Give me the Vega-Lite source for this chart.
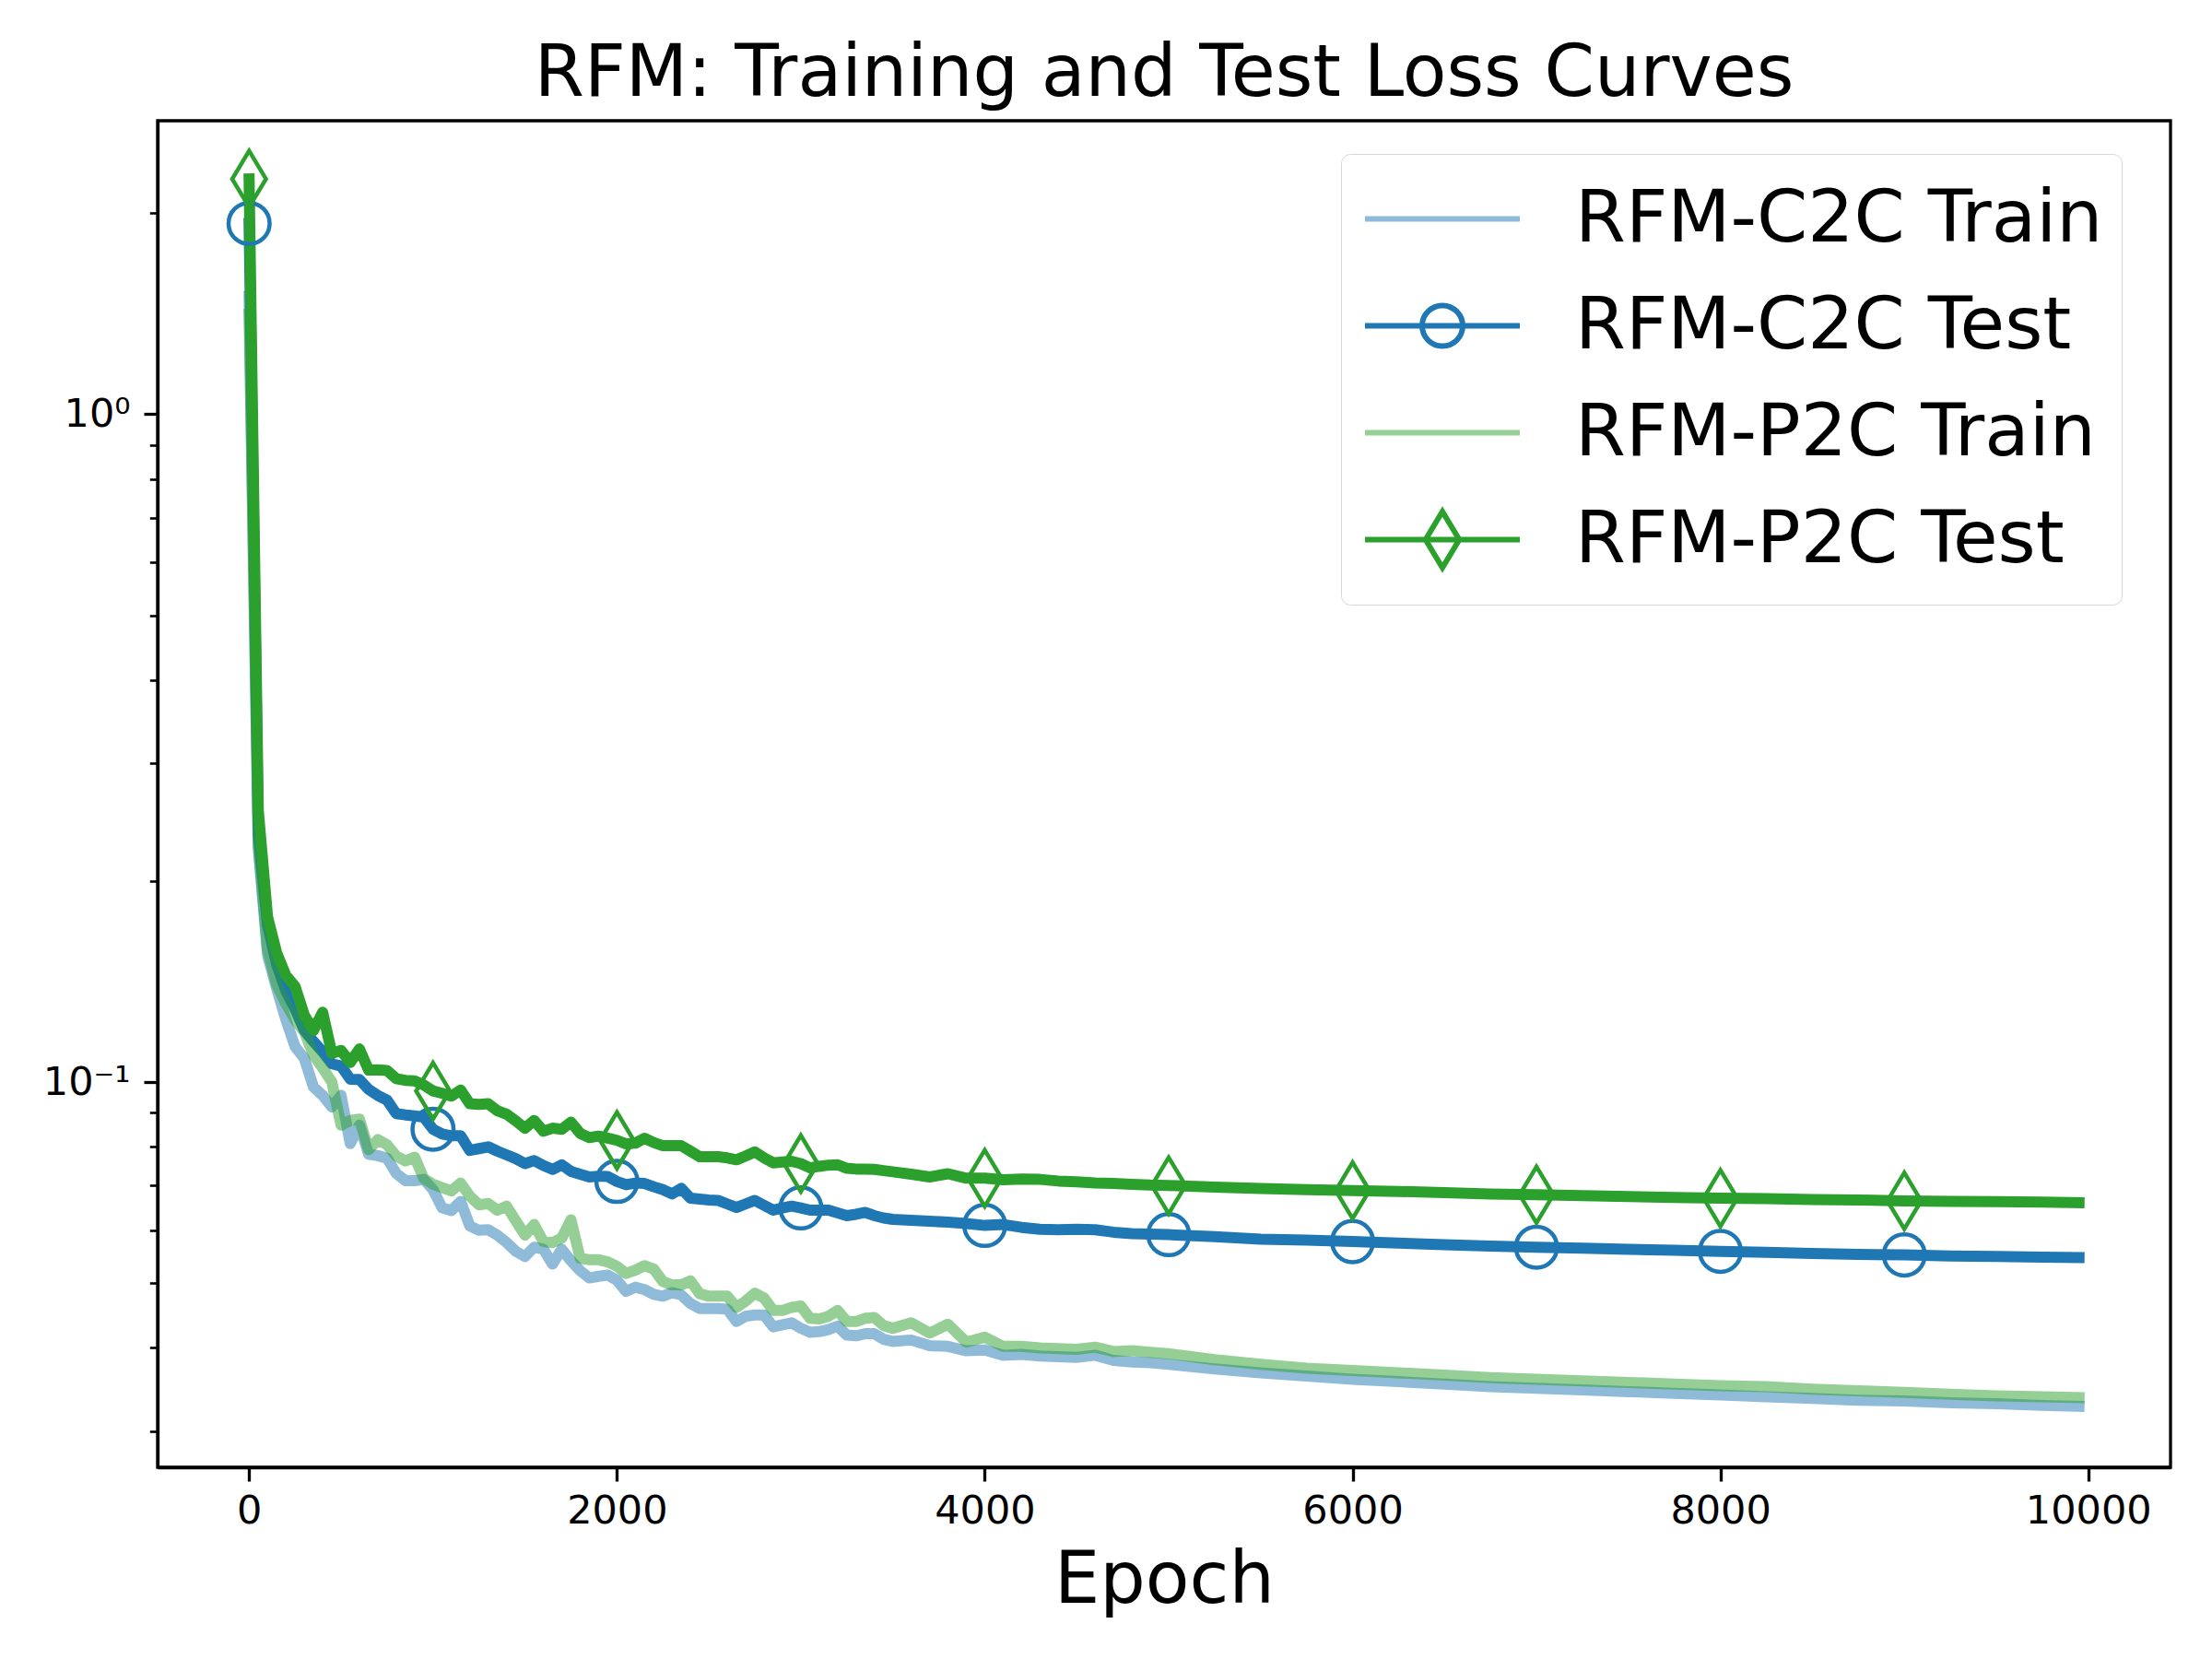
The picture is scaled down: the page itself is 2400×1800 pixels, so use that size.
{
"$schema":"https://vega.github.io/schema/vega-lite/v6.json",
"width":2184,"height":1461,
"autosize":{"type":"none"},
"padding":{"left":171,"top":131,"right":45,"bottom":208},
"background":"white",
"title":{"text":"RFM: Training and Test Loss Curves","font":"DejaVu Sans","fontSize":78,"fontWeight":"normal","color":"black","anchor":"middle","frame":"group","baseline":"alphabetic","offset":-51},
"config":{"font":"DejaVu Sans","view":{"stroke":"black","strokeWidth":3.3}},
"data":{"values":[
{"series":"RFM-C2C Train","epoch":0,"loss":1.5},{"series":"RFM-C2C Train","epoch":50,"loss":0.225},{"series":"RFM-C2C Train","epoch":100,"loss":0.155},{"series":"RFM-C2C Train","epoch":150,"loss":0.138},{"series":"RFM-C2C Train","epoch":200,"loss":0.124},{"series":"RFM-C2C Train","epoch":250,"loss":0.113},{"series":"RFM-C2C Train","epoch":300,"loss":0.1085},{"series":"RFM-C2C Train","epoch":350,"loss":0.0983},{"series":"RFM-C2C Train","epoch":400,"loss":0.0955},{"series":"RFM-C2C Train","epoch":450,"loss":0.0918},{"series":"RFM-C2C Train","epoch":500,"loss":0.0955},{"series":"RFM-C2C Train","epoch":550,"loss":0.0809},{"series":"RFM-C2C Train","epoch":600,"loss":0.0862},{"series":"RFM-C2C Train","epoch":650,"loss":0.078},{"series":"RFM-C2C Train","epoch":700,"loss":0.0776},{"series":"RFM-C2C Train","epoch":750,"loss":0.0769},{"series":"RFM-C2C Train","epoch":800,"loss":0.073},{"series":"RFM-C2C Train","epoch":850,"loss":0.0712},{"series":"RFM-C2C Train","epoch":900,"loss":0.0712},{"series":"RFM-C2C Train","epoch":950,"loss":0.0715},{"series":"RFM-C2C Train","epoch":1000,"loss":0.069},{"series":"RFM-C2C Train","epoch":1050,"loss":0.0648},{"series":"RFM-C2C Train","epoch":1100,"loss":0.0642},{"series":"RFM-C2C Train","epoch":1150,"loss":0.0663},{"series":"RFM-C2C Train","epoch":1200,"loss":0.0609},{"series":"RFM-C2C Train","epoch":1250,"loss":0.06},{"series":"RFM-C2C Train","epoch":1300,"loss":0.0601},{"series":"RFM-C2C Train","epoch":1350,"loss":0.059},{"series":"RFM-C2C Train","epoch":1400,"loss":0.0575},{"series":"RFM-C2C Train","epoch":1450,"loss":0.0558},{"series":"RFM-C2C Train","epoch":1500,"loss":0.0548},{"series":"RFM-C2C Train","epoch":1550,"loss":0.0566},{"series":"RFM-C2C Train","epoch":1600,"loss":0.0562},{"series":"RFM-C2C Train","epoch":1650,"loss":0.0534},{"series":"RFM-C2C Train","epoch":1700,"loss":0.0562},{"series":"RFM-C2C Train","epoch":1750,"loss":0.054},{"series":"RFM-C2C Train","epoch":1800,"loss":0.0522},{"series":"RFM-C2C Train","epoch":1850,"loss":0.0509},{"series":"RFM-C2C Train","epoch":1900,"loss":0.0512},{"series":"RFM-C2C Train","epoch":1950,"loss":0.0514},{"series":"RFM-C2C Train","epoch":2000,"loss":0.0505},{"series":"RFM-C2C Train","epoch":2050,"loss":0.0486},{"series":"RFM-C2C Train","epoch":2100,"loss":0.0493},{"series":"RFM-C2C Train","epoch":2150,"loss":0.0489},{"series":"RFM-C2C Train","epoch":2200,"loss":0.0481},{"series":"RFM-C2C Train","epoch":2250,"loss":0.0478},{"series":"RFM-C2C Train","epoch":2300,"loss":0.0484},{"series":"RFM-C2C Train","epoch":2350,"loss":0.048},{"series":"RFM-C2C Train","epoch":2400,"loss":0.0466},{"series":"RFM-C2C Train","epoch":2450,"loss":0.0458},{"series":"RFM-C2C Train","epoch":2500,"loss":0.0458},{"series":"RFM-C2C Train","epoch":2550,"loss":0.0458},{"series":"RFM-C2C Train","epoch":2600,"loss":0.0457},{"series":"RFM-C2C Train","epoch":2650,"loss":0.0438},{"series":"RFM-C2C Train","epoch":2700,"loss":0.0446},{"series":"RFM-C2C Train","epoch":2750,"loss":0.0448},{"series":"RFM-C2C Train","epoch":2800,"loss":0.0448},{"series":"RFM-C2C Train","epoch":2850,"loss":0.043},{"series":"RFM-C2C Train","epoch":2900,"loss":0.0433},{"series":"RFM-C2C Train","epoch":2950,"loss":0.0436},{"series":"RFM-C2C Train","epoch":3000,"loss":0.0428},{"series":"RFM-C2C Train","epoch":3050,"loss":0.0422},{"series":"RFM-C2C Train","epoch":3100,"loss":0.0423},{"series":"RFM-C2C Train","epoch":3150,"loss":0.0426},{"series":"RFM-C2C Train","epoch":3200,"loss":0.0431},{"series":"RFM-C2C Train","epoch":3250,"loss":0.0418},{"series":"RFM-C2C Train","epoch":3300,"loss":0.0417},{"series":"RFM-C2C Train","epoch":3350,"loss":0.042},{"series":"RFM-C2C Train","epoch":3400,"loss":0.042},{"series":"RFM-C2C Train","epoch":3450,"loss":0.0412},{"series":"RFM-C2C Train","epoch":3500,"loss":0.0409},{"series":"RFM-C2C Train","epoch":3600,"loss":0.0411},{"series":"RFM-C2C Train","epoch":3700,"loss":0.0403},{"series":"RFM-C2C Train","epoch":3800,"loss":0.0402},{"series":"RFM-C2C Train","epoch":3900,"loss":0.0396},{"series":"RFM-C2C Train","epoch":4000,"loss":0.0397},{"series":"RFM-C2C Train","epoch":4100,"loss":0.039},{"series":"RFM-C2C Train","epoch":4200,"loss":0.0391},{"series":"RFM-C2C Train","epoch":4300,"loss":0.0389},{"series":"RFM-C2C Train","epoch":4400,"loss":0.0388},{"series":"RFM-C2C Train","epoch":4500,"loss":0.0387},{"series":"RFM-C2C Train","epoch":4600,"loss":0.039},{"series":"RFM-C2C Train","epoch":4700,"loss":0.0383},{"series":"RFM-C2C Train","epoch":4800,"loss":0.0381},{"series":"RFM-C2C Train","epoch":4900,"loss":0.038},{"series":"RFM-C2C Train","epoch":5000,"loss":0.0378},{"series":"RFM-C2C Train","epoch":5250,"loss":0.0372},{"series":"RFM-C2C Train","epoch":5500,"loss":0.0367},{"series":"RFM-C2C Train","epoch":5750,"loss":0.0363},{"series":"RFM-C2C Train","epoch":6000,"loss":0.0359},{"series":"RFM-C2C Train","epoch":6250,"loss":0.0356},{"series":"RFM-C2C Train","epoch":6500,"loss":0.0353},{"series":"RFM-C2C Train","epoch":6750,"loss":0.035},{"series":"RFM-C2C Train","epoch":7000,"loss":0.0348},{"series":"RFM-C2C Train","epoch":7250,"loss":0.0346},{"series":"RFM-C2C Train","epoch":7500,"loss":0.0344},{"series":"RFM-C2C Train","epoch":7750,"loss":0.0342},{"series":"RFM-C2C Train","epoch":8000,"loss":0.034},{"series":"RFM-C2C Train","epoch":8250,"loss":0.0338},{"series":"RFM-C2C Train","epoch":8500,"loss":0.0336},{"series":"RFM-C2C Train","epoch":8750,"loss":0.0334},{"series":"RFM-C2C Train","epoch":9000,"loss":0.0333},{"series":"RFM-C2C Train","epoch":9250,"loss":0.0331},{"series":"RFM-C2C Train","epoch":9500,"loss":0.033},{"series":"RFM-C2C Train","epoch":9750,"loss":0.0328},{"series":"RFM-C2C Train","epoch":9950,"loss":0.0327},
{"series":"RFM-C2C Test","epoch":0,"loss":1.93},{"series":"RFM-C2C Test","epoch":50,"loss":0.235},{"series":"RFM-C2C Test","epoch":100,"loss":0.172},{"series":"RFM-C2C Test","epoch":150,"loss":0.15},{"series":"RFM-C2C Test","epoch":200,"loss":0.137},{"series":"RFM-C2C Test","epoch":250,"loss":0.1286},{"series":"RFM-C2C Test","epoch":300,"loss":0.1195},{"series":"RFM-C2C Test","epoch":350,"loss":0.115},{"series":"RFM-C2C Test","epoch":400,"loss":0.111},{"series":"RFM-C2C Test","epoch":450,"loss":0.1065},{"series":"RFM-C2C Test","epoch":500,"loss":0.1057},{"series":"RFM-C2C Test","epoch":550,"loss":0.101},{"series":"RFM-C2C Test","epoch":600,"loss":0.1009},{"series":"RFM-C2C Test","epoch":650,"loss":0.0975},{"series":"RFM-C2C Test","epoch":700,"loss":0.0955},{"series":"RFM-C2C Test","epoch":750,"loss":0.094},{"series":"RFM-C2C Test","epoch":800,"loss":0.0897},{"series":"RFM-C2C Test","epoch":850,"loss":0.0893},{"series":"RFM-C2C Test","epoch":900,"loss":0.089},{"series":"RFM-C2C Test","epoch":950,"loss":0.0886},{"series":"RFM-C2C Test","epoch":1000,"loss":0.085},{"series":"RFM-C2C Test","epoch":1050,"loss":0.0836},{"series":"RFM-C2C Test","epoch":1100,"loss":0.0831},{"series":"RFM-C2C Test","epoch":1150,"loss":0.0831},{"series":"RFM-C2C Test","epoch":1200,"loss":0.079},{"series":"RFM-C2C Test","epoch":1250,"loss":0.0795},{"series":"RFM-C2C Test","epoch":1300,"loss":0.08},{"series":"RFM-C2C Test","epoch":1350,"loss":0.0788},{"series":"RFM-C2C Test","epoch":1400,"loss":0.0778},{"series":"RFM-C2C Test","epoch":1450,"loss":0.0768},{"series":"RFM-C2C Test","epoch":1500,"loss":0.0755},{"series":"RFM-C2C Test","epoch":1550,"loss":0.0763},{"series":"RFM-C2C Test","epoch":1600,"loss":0.075},{"series":"RFM-C2C Test","epoch":1650,"loss":0.074},{"series":"RFM-C2C Test","epoch":1700,"loss":0.0752},{"series":"RFM-C2C Test","epoch":1750,"loss":0.0735},{"series":"RFM-C2C Test","epoch":1800,"loss":0.0728},{"series":"RFM-C2C Test","epoch":1850,"loss":0.0721},{"series":"RFM-C2C Test","epoch":1900,"loss":0.0723},{"series":"RFM-C2C Test","epoch":1950,"loss":0.0722},{"series":"RFM-C2C Test","epoch":2000,"loss":0.071},{"series":"RFM-C2C Test","epoch":2050,"loss":0.0702},{"series":"RFM-C2C Test","epoch":2100,"loss":0.0706},{"series":"RFM-C2C Test","epoch":2150,"loss":0.0705},{"series":"RFM-C2C Test","epoch":2200,"loss":0.0697},{"series":"RFM-C2C Test","epoch":2250,"loss":0.069},{"series":"RFM-C2C Test","epoch":2300,"loss":0.068},{"series":"RFM-C2C Test","epoch":2350,"loss":0.0693},{"series":"RFM-C2C Test","epoch":2400,"loss":0.067},{"series":"RFM-C2C Test","epoch":2450,"loss":0.0668},{"series":"RFM-C2C Test","epoch":2500,"loss":0.0666},{"series":"RFM-C2C Test","epoch":2550,"loss":0.0665},{"series":"RFM-C2C Test","epoch":2600,"loss":0.0657},{"series":"RFM-C2C Test","epoch":2650,"loss":0.0649},{"series":"RFM-C2C Test","epoch":2700,"loss":0.0657},{"series":"RFM-C2C Test","epoch":2750,"loss":0.0665},{"series":"RFM-C2C Test","epoch":2800,"loss":0.0654},{"series":"RFM-C2C Test","epoch":2850,"loss":0.0643},{"series":"RFM-C2C Test","epoch":2900,"loss":0.0648},{"series":"RFM-C2C Test","epoch":2950,"loss":0.0652},{"series":"RFM-C2C Test","epoch":3000,"loss":0.0648},{"series":"RFM-C2C Test","epoch":3050,"loss":0.0643},{"series":"RFM-C2C Test","epoch":3100,"loss":0.0643},{"series":"RFM-C2C Test","epoch":3150,"loss":0.0643},{"series":"RFM-C2C Test","epoch":3200,"loss":0.0637},{"series":"RFM-C2C Test","epoch":3250,"loss":0.0631},{"series":"RFM-C2C Test","epoch":3300,"loss":0.0634},{"series":"RFM-C2C Test","epoch":3350,"loss":0.0638},{"series":"RFM-C2C Test","epoch":3400,"loss":0.0631},{"series":"RFM-C2C Test","epoch":3450,"loss":0.0626},{"series":"RFM-C2C Test","epoch":3500,"loss":0.0623},{"series":"RFM-C2C Test","epoch":3600,"loss":0.0621},{"series":"RFM-C2C Test","epoch":3700,"loss":0.0619},{"series":"RFM-C2C Test","epoch":3800,"loss":0.0617},{"series":"RFM-C2C Test","epoch":3900,"loss":0.0614},{"series":"RFM-C2C Test","epoch":4000,"loss":0.061},{"series":"RFM-C2C Test","epoch":4100,"loss":0.0612},{"series":"RFM-C2C Test","epoch":4200,"loss":0.0606},{"series":"RFM-C2C Test","epoch":4300,"loss":0.0602},{"series":"RFM-C2C Test","epoch":4400,"loss":0.0601},{"series":"RFM-C2C Test","epoch":4500,"loss":0.0602},{"series":"RFM-C2C Test","epoch":4600,"loss":0.0601},{"series":"RFM-C2C Test","epoch":4700,"loss":0.0596},{"series":"RFM-C2C Test","epoch":4800,"loss":0.0593},{"series":"RFM-C2C Test","epoch":4900,"loss":0.0592},{"series":"RFM-C2C Test","epoch":5000,"loss":0.0591},{"series":"RFM-C2C Test","epoch":5250,"loss":0.0587},{"series":"RFM-C2C Test","epoch":5500,"loss":0.0582},{"series":"RFM-C2C Test","epoch":5750,"loss":0.058},{"series":"RFM-C2C Test","epoch":6000,"loss":0.0577},{"series":"RFM-C2C Test","epoch":6250,"loss":0.0574},{"series":"RFM-C2C Test","epoch":6500,"loss":0.0571},{"series":"RFM-C2C Test","epoch":6750,"loss":0.0568},{"series":"RFM-C2C Test","epoch":7000,"loss":0.0566},{"series":"RFM-C2C Test","epoch":7250,"loss":0.0564},{"series":"RFM-C2C Test","epoch":7500,"loss":0.0562},{"series":"RFM-C2C Test","epoch":7750,"loss":0.056},{"series":"RFM-C2C Test","epoch":8000,"loss":0.0558},{"series":"RFM-C2C Test","epoch":8250,"loss":0.0556},{"series":"RFM-C2C Test","epoch":8500,"loss":0.0554},{"series":"RFM-C2C Test","epoch":8750,"loss":0.0552},{"series":"RFM-C2C Test","epoch":9000,"loss":0.0551},{"series":"RFM-C2C Test","epoch":9250,"loss":0.0549},{"series":"RFM-C2C Test","epoch":9500,"loss":0.0548},{"series":"RFM-C2C Test","epoch":9750,"loss":0.0547},{"series":"RFM-C2C Test","epoch":9950,"loss":0.0546},
{"series":"RFM-P2C Train","epoch":0,"loss":1.41},{"series":"RFM-P2C Train","epoch":50,"loss":0.225},{"series":"RFM-P2C Train","epoch":100,"loss":0.158},{"series":"RFM-P2C Train","epoch":150,"loss":0.14},{"series":"RFM-P2C Train","epoch":200,"loss":0.131},{"series":"RFM-P2C Train","epoch":250,"loss":0.124},{"series":"RFM-P2C Train","epoch":300,"loss":0.119},{"series":"RFM-P2C Train","epoch":350,"loss":0.1098},{"series":"RFM-P2C Train","epoch":400,"loss":0.105},{"series":"RFM-P2C Train","epoch":450,"loss":0.1},{"series":"RFM-P2C Train","epoch":500,"loss":0.0862},{"series":"RFM-P2C Train","epoch":550,"loss":0.0876},{"series":"RFM-P2C Train","epoch":600,"loss":0.088},{"series":"RFM-P2C Train","epoch":650,"loss":0.0792},{"series":"RFM-P2C Train","epoch":700,"loss":0.082},{"series":"RFM-P2C Train","epoch":750,"loss":0.0806},{"series":"RFM-P2C Train","epoch":800,"loss":0.0775},{"series":"RFM-P2C Train","epoch":850,"loss":0.0762},{"series":"RFM-P2C Train","epoch":900,"loss":0.0772},{"series":"RFM-P2C Train","epoch":950,"loss":0.0717},{"series":"RFM-P2C Train","epoch":1000,"loss":0.0703},{"series":"RFM-P2C Train","epoch":1050,"loss":0.0695},{"series":"RFM-P2C Train","epoch":1100,"loss":0.0687},{"series":"RFM-P2C Train","epoch":1150,"loss":0.0706},{"series":"RFM-P2C Train","epoch":1200,"loss":0.0675},{"series":"RFM-P2C Train","epoch":1250,"loss":0.0655},{"series":"RFM-P2C Train","epoch":1300,"loss":0.0658},{"series":"RFM-P2C Train","epoch":1350,"loss":0.0643},{"series":"RFM-P2C Train","epoch":1400,"loss":0.0652},{"series":"RFM-P2C Train","epoch":1450,"loss":0.062},{"series":"RFM-P2C Train","epoch":1500,"loss":0.059},{"series":"RFM-P2C Train","epoch":1550,"loss":0.0612},{"series":"RFM-P2C Train","epoch":1600,"loss":0.0577},{"series":"RFM-P2C Train","epoch":1650,"loss":0.0575},{"series":"RFM-P2C Train","epoch":1700,"loss":0.0584},{"series":"RFM-P2C Train","epoch":1750,"loss":0.0622},{"series":"RFM-P2C Train","epoch":1800,"loss":0.0545},{"series":"RFM-P2C Train","epoch":1850,"loss":0.0542},{"series":"RFM-P2C Train","epoch":1900,"loss":0.0542},{"series":"RFM-P2C Train","epoch":1950,"loss":0.0538},{"series":"RFM-P2C Train","epoch":2000,"loss":0.053},{"series":"RFM-P2C Train","epoch":2050,"loss":0.0517},{"series":"RFM-P2C Train","epoch":2100,"loss":0.0523},{"series":"RFM-P2C Train","epoch":2150,"loss":0.0531},{"series":"RFM-P2C Train","epoch":2200,"loss":0.0525},{"series":"RFM-P2C Train","epoch":2250,"loss":0.0503},{"series":"RFM-P2C Train","epoch":2300,"loss":0.0497},{"series":"RFM-P2C Train","epoch":2350,"loss":0.0497},{"series":"RFM-P2C Train","epoch":2400,"loss":0.0504},{"series":"RFM-P2C Train","epoch":2450,"loss":0.0482},{"series":"RFM-P2C Train","epoch":2500,"loss":0.0478},{"series":"RFM-P2C Train","epoch":2550,"loss":0.0478},{"series":"RFM-P2C Train","epoch":2600,"loss":0.0478},{"series":"RFM-P2C Train","epoch":2650,"loss":0.046},{"series":"RFM-P2C Train","epoch":2700,"loss":0.047},{"series":"RFM-P2C Train","epoch":2750,"loss":0.0483},{"series":"RFM-P2C Train","epoch":2800,"loss":0.0475},{"series":"RFM-P2C Train","epoch":2850,"loss":0.0455},{"series":"RFM-P2C Train","epoch":2900,"loss":0.0455},{"series":"RFM-P2C Train","epoch":2950,"loss":0.046},{"series":"RFM-P2C Train","epoch":3000,"loss":0.0462},{"series":"RFM-P2C Train","epoch":3050,"loss":0.0443},{"series":"RFM-P2C Train","epoch":3100,"loss":0.0442},{"series":"RFM-P2C Train","epoch":3150,"loss":0.0446},{"series":"RFM-P2C Train","epoch":3200,"loss":0.0455},{"series":"RFM-P2C Train","epoch":3250,"loss":0.0438},{"series":"RFM-P2C Train","epoch":3300,"loss":0.0438},{"series":"RFM-P2C Train","epoch":3350,"loss":0.0443},{"series":"RFM-P2C Train","epoch":3400,"loss":0.0444},{"series":"RFM-P2C Train","epoch":3450,"loss":0.0432},{"series":"RFM-P2C Train","epoch":3500,"loss":0.0428},{"series":"RFM-P2C Train","epoch":3600,"loss":0.0436},{"series":"RFM-P2C Train","epoch":3700,"loss":0.0421},{"series":"RFM-P2C Train","epoch":3800,"loss":0.0434},{"series":"RFM-P2C Train","epoch":3900,"loss":0.0408},{"series":"RFM-P2C Train","epoch":4000,"loss":0.0415},{"series":"RFM-P2C Train","epoch":4100,"loss":0.0402},{"series":"RFM-P2C Train","epoch":4200,"loss":0.0402},{"series":"RFM-P2C Train","epoch":4300,"loss":0.04},{"series":"RFM-P2C Train","epoch":4400,"loss":0.0399},{"series":"RFM-P2C Train","epoch":4500,"loss":0.0398},{"series":"RFM-P2C Train","epoch":4600,"loss":0.0401},{"series":"RFM-P2C Train","epoch":4700,"loss":0.0395},{"series":"RFM-P2C Train","epoch":4800,"loss":0.0396},{"series":"RFM-P2C Train","epoch":4900,"loss":0.0394},{"series":"RFM-P2C Train","epoch":5000,"loss":0.0392},{"series":"RFM-P2C Train","epoch":5250,"loss":0.0384},{"series":"RFM-P2C Train","epoch":5500,"loss":0.0378},{"series":"RFM-P2C Train","epoch":5750,"loss":0.0373},{"series":"RFM-P2C Train","epoch":6000,"loss":0.037},{"series":"RFM-P2C Train","epoch":6250,"loss":0.0367},{"series":"RFM-P2C Train","epoch":6500,"loss":0.0364},{"series":"RFM-P2C Train","epoch":6750,"loss":0.0361},{"series":"RFM-P2C Train","epoch":7000,"loss":0.0359},{"series":"RFM-P2C Train","epoch":7250,"loss":0.0357},{"series":"RFM-P2C Train","epoch":7500,"loss":0.0355},{"series":"RFM-P2C Train","epoch":7750,"loss":0.0353},{"series":"RFM-P2C Train","epoch":8000,"loss":0.0351},{"series":"RFM-P2C Train","epoch":8250,"loss":0.035},{"series":"RFM-P2C Train","epoch":8500,"loss":0.0347},{"series":"RFM-P2C Train","epoch":8750,"loss":0.0345},{"series":"RFM-P2C Train","epoch":9000,"loss":0.0343},{"series":"RFM-P2C Train","epoch":9250,"loss":0.0341},{"series":"RFM-P2C Train","epoch":9500,"loss":0.0339},{"series":"RFM-P2C Train","epoch":9750,"loss":0.0338},{"series":"RFM-P2C Train","epoch":9950,"loss":0.0337},
{"series":"RFM-P2C Test","epoch":0,"loss":2.25},{"series":"RFM-P2C Test","epoch":50,"loss":0.255},{"series":"RFM-P2C Test","epoch":100,"loss":0.177},{"series":"RFM-P2C Test","epoch":150,"loss":0.156},{"series":"RFM-P2C Test","epoch":200,"loss":0.1445},{"series":"RFM-P2C Test","epoch":250,"loss":0.139},{"series":"RFM-P2C Test","epoch":300,"loss":0.126},{"series":"RFM-P2C Test","epoch":350,"loss":0.1195},{"series":"RFM-P2C Test","epoch":400,"loss":0.1272},{"series":"RFM-P2C Test","epoch":450,"loss":0.1104},{"series":"RFM-P2C Test","epoch":500,"loss":0.1115},{"series":"RFM-P2C Test","epoch":550,"loss":0.107},{"series":"RFM-P2C Test","epoch":600,"loss":0.1121},{"series":"RFM-P2C Test","epoch":650,"loss":0.1042},{"series":"RFM-P2C Test","epoch":700,"loss":0.1043},{"series":"RFM-P2C Test","epoch":750,"loss":0.1041},{"series":"RFM-P2C Test","epoch":800,"loss":0.1012},{"series":"RFM-P2C Test","epoch":850,"loss":0.1006},{"series":"RFM-P2C Test","epoch":900,"loss":0.1004},{"series":"RFM-P2C Test","epoch":950,"loss":0.099},{"series":"RFM-P2C Test","epoch":1000,"loss":0.097},{"series":"RFM-P2C Test","epoch":1050,"loss":0.0962},{"series":"RFM-P2C Test","epoch":1100,"loss":0.0953},{"series":"RFM-P2C Test","epoch":1150,"loss":0.0973},{"series":"RFM-P2C Test","epoch":1200,"loss":0.0928},{"series":"RFM-P2C Test","epoch":1250,"loss":0.0926},{"series":"RFM-P2C Test","epoch":1300,"loss":0.0928},{"series":"RFM-P2C Test","epoch":1350,"loss":0.0906},{"series":"RFM-P2C Test","epoch":1400,"loss":0.0895},{"series":"RFM-P2C Test","epoch":1450,"loss":0.0875},{"series":"RFM-P2C Test","epoch":1500,"loss":0.0853},{"series":"RFM-P2C Test","epoch":1550,"loss":0.0876},{"series":"RFM-P2C Test","epoch":1600,"loss":0.0844},{"series":"RFM-P2C Test","epoch":1650,"loss":0.0853},{"series":"RFM-P2C Test","epoch":1700,"loss":0.085},{"series":"RFM-P2C Test","epoch":1750,"loss":0.0871},{"series":"RFM-P2C Test","epoch":1800,"loss":0.0838},{"series":"RFM-P2C Test","epoch":1850,"loss":0.0826},{"series":"RFM-P2C Test","epoch":1900,"loss":0.083},{"series":"RFM-P2C Test","epoch":1950,"loss":0.0824},{"series":"RFM-P2C Test","epoch":2000,"loss":0.0818},{"series":"RFM-P2C Test","epoch":2050,"loss":0.0808},{"series":"RFM-P2C Test","epoch":2100,"loss":0.081},{"series":"RFM-P2C Test","epoch":2150,"loss":0.0824},{"series":"RFM-P2C Test","epoch":2200,"loss":0.0812},{"series":"RFM-P2C Test","epoch":2250,"loss":0.0803},{"series":"RFM-P2C Test","epoch":2300,"loss":0.0803},{"series":"RFM-P2C Test","epoch":2350,"loss":0.0803},{"series":"RFM-P2C Test","epoch":2400,"loss":0.0788},{"series":"RFM-P2C Test","epoch":2450,"loss":0.0773},{"series":"RFM-P2C Test","epoch":2500,"loss":0.0773},{"series":"RFM-P2C Test","epoch":2550,"loss":0.0773},{"series":"RFM-P2C Test","epoch":2600,"loss":0.077},{"series":"RFM-P2C Test","epoch":2650,"loss":0.0765},{"series":"RFM-P2C Test","epoch":2700,"loss":0.0775},{"series":"RFM-P2C Test","epoch":2750,"loss":0.0786},{"series":"RFM-P2C Test","epoch":2800,"loss":0.077},{"series":"RFM-P2C Test","epoch":2850,"loss":0.0757},{"series":"RFM-P2C Test","epoch":2900,"loss":0.0759},{"series":"RFM-P2C Test","epoch":2950,"loss":0.0761},{"series":"RFM-P2C Test","epoch":3000,"loss":0.0755},{"series":"RFM-P2C Test","epoch":3050,"loss":0.0744},{"series":"RFM-P2C Test","epoch":3100,"loss":0.0748},{"series":"RFM-P2C Test","epoch":3150,"loss":0.0751},{"series":"RFM-P2C Test","epoch":3200,"loss":0.0752},{"series":"RFM-P2C Test","epoch":3250,"loss":0.0743},{"series":"RFM-P2C Test","epoch":3300,"loss":0.0741},{"series":"RFM-P2C Test","epoch":3350,"loss":0.0741},{"series":"RFM-P2C Test","epoch":3400,"loss":0.074},{"series":"RFM-P2C Test","epoch":3450,"loss":0.0737},{"series":"RFM-P2C Test","epoch":3500,"loss":0.0734},{"series":"RFM-P2C Test","epoch":3600,"loss":0.0728},{"series":"RFM-P2C Test","epoch":3700,"loss":0.0721},{"series":"RFM-P2C Test","epoch":3800,"loss":0.0729},{"series":"RFM-P2C Test","epoch":3900,"loss":0.0718},{"series":"RFM-P2C Test","epoch":4000,"loss":0.0718},{"series":"RFM-P2C Test","epoch":4100,"loss":0.0714},{"series":"RFM-P2C Test","epoch":4200,"loss":0.0716},{"series":"RFM-P2C Test","epoch":4300,"loss":0.0715},{"series":"RFM-P2C Test","epoch":4400,"loss":0.0711},{"series":"RFM-P2C Test","epoch":4500,"loss":0.0709},{"series":"RFM-P2C Test","epoch":4600,"loss":0.0706},{"series":"RFM-P2C Test","epoch":4700,"loss":0.0705},{"series":"RFM-P2C Test","epoch":4800,"loss":0.0703},{"series":"RFM-P2C Test","epoch":4900,"loss":0.0701},{"series":"RFM-P2C Test","epoch":5000,"loss":0.07},{"series":"RFM-P2C Test","epoch":5250,"loss":0.0696},{"series":"RFM-P2C Test","epoch":5500,"loss":0.0693},{"series":"RFM-P2C Test","epoch":5750,"loss":0.069},{"series":"RFM-P2C Test","epoch":6000,"loss":0.0688},{"series":"RFM-P2C Test","epoch":6250,"loss":0.0686},{"series":"RFM-P2C Test","epoch":6500,"loss":0.0683},{"series":"RFM-P2C Test","epoch":6750,"loss":0.068},{"series":"RFM-P2C Test","epoch":7000,"loss":0.0678},{"series":"RFM-P2C Test","epoch":7250,"loss":0.0676},{"series":"RFM-P2C Test","epoch":7500,"loss":0.0674},{"series":"RFM-P2C Test","epoch":7750,"loss":0.0672},{"series":"RFM-P2C Test","epoch":8000,"loss":0.067},{"series":"RFM-P2C Test","epoch":8250,"loss":0.0669},{"series":"RFM-P2C Test","epoch":8500,"loss":0.0667},{"series":"RFM-P2C Test","epoch":8750,"loss":0.0666},{"series":"RFM-P2C Test","epoch":9000,"loss":0.0664},{"series":"RFM-P2C Test","epoch":9250,"loss":0.0663},{"series":"RFM-P2C Test","epoch":9500,"loss":0.0662},{"series":"RFM-P2C Test","epoch":9750,"loss":0.0661},{"series":"RFM-P2C Test","epoch":9950,"loss":0.066}
]},
"encoding":{"x":{"field":"epoch","type":"quantitative","scale":{"domain":[-497.5,10447.5],"nice":false,"zero":false},
 "axis":{"values":[0,2000,4000,6000,8000,10000],"format":"d","title":"Epoch","titleFont":"DejaVu Sans","titleFontSize":78,"titleFontWeight":"normal","titleColor":"black","titleBaseline":"alphabetic","titleY":146,
 "labelFont":"DejaVu Sans","labelFontSize":43,"labelColor":"black","labelBaseline":"alphabetic","labelPadding":45,"labelFlush":false,"labelOverlap":false,
 "tickSize":15,"tickWidth":3.3,"tickColor":"black","domainColor":"black","domainWidth":3.3,"grid":false}}},
"layer":[
 {"transform":[{"filter":"datum.series == 'RFM-C2C Train'"}],
  "mark":{"type":"line","stroke":"#1f77b4","strokeOpacity":0.5,"strokeWidth":12,"strokeCap":"square","strokeJoin":"round"},
  "encoding":{"y":{"field":"loss","type":"quantitative","scale":{"type":"log","domain":[0.0265,2.75],"nice":false},
   "axis":{"orient":"left","values":[0.1,1],"labelExpr":"datum.value >= 0.5 ? '10⁰' : '10⁻¹'","title":null,"labelFont":"DejaVu Sans","labelFontSize":43,"labelColor":"black","labelPadding":15,"labelBaseline":"middle","tickSize":15,"tickWidth":3.3,"tickColor":"black","domainColor":"black","domainWidth":3.3,"grid":false}}}},
 {"transform":[{"filter":"datum.series == 'RFM-C2C Test'"}],
  "mark":{"type":"line","stroke":"#1f77b4","strokeWidth":12,"strokeCap":"square","strokeJoin":"round"},
  "encoding":{"y":{"field":"loss","type":"quantitative",
   "axis":{"orient":"left","values":[0.03,0.04,0.05,0.06,0.07,0.08,0.09,0.2,0.3,0.4,0.5,0.6,0.7,0.8,0.9,2],"labels":false,"domain":false,"title":null,"tickSize":8.7,"tickWidth":2.6,"tickColor":"black","grid":false}}}},
 {"transform":[{"filter":"datum.series == 'RFM-P2C Train'"}],
  "mark":{"type":"line","stroke":"#2ca02c","strokeOpacity":0.5,"strokeWidth":12,"strokeCap":"square","strokeJoin":"round"},
  "encoding":{"y":{"field":"loss","type":"quantitative","axis":null}}},
 {"transform":[{"filter":"datum.series == 'RFM-P2C Test'"}],
  "mark":{"type":"line","stroke":"#2ca02c","strokeWidth":12,"strokeCap":"square","strokeJoin":"round"},
  "encoding":{"y":{"field":"loss","type":"quantitative","axis":null}}},
 {"transform":[{"filter":"datum.epoch % 1000 == 0 && datum.series == 'RFM-C2C Test'"}],
  "mark":{"type":"point","filled":false,"stroke":"#1f77b4","strokeWidth":4.5,"size":3721,"opacity":1,"shape":"M0.73,0A0.73,0.73,0,1,1,-0.73,0A0.73,0.73,0,1,1,0.73,0Z"},
  "encoding":{"y":{"field":"loss","type":"quantitative","axis":null}}},
 {"transform":[{"filter":"datum.epoch % 1000 == 0 && datum.series == 'RFM-P2C Test'"}],
  "mark":{"type":"point","filled":false,"stroke":"#2ca02c","strokeWidth":4.5,"size":3721,"opacity":1,"shape":"M0,-1L0.6,0L0,1L-0.6,0Z"},
  "encoding":{"y":{"field":"loss","type":"quantitative","axis":null}}},
 {"transform":[{"filter":"false"}],
  "mark":{"type":"point","filled":false,"strokeWidth":6,"opacity":1},
  "encoding":{"y":{"field":"loss","type":"quantitative","axis":null},
   "color":{"field":"series","type":"nominal","scale":{"domain":["RFM-C2C Train","RFM-C2C Test","RFM-P2C Train","RFM-P2C Test"],"range":["#8fbbda","#1f77b4","#96d096","#2ca02c"]},
    "legend":{"title":null,"orient":"none","legendX":1284,"legendY":36,"direction":"vertical","padding":20,"fillColor":"white","strokeColor":"#d6d6d6","cornerRadius":10,
     "labelFont":"DejaVu Sans","labelFontSize":79,"labelColor":"black","labelLimit":3000,"labelExpr":"datum.label + '\u2009'","symbolSize":28224,"symbolStrokeWidth":6,"symbolOffset":3,"labelOffset":57,"clipHeight":101,"rowPadding":15,"symbolFillColor":"transparent","symbolOpacity":1}},
   "shape":{"field":"series","type":"nominal","scale":{"domain":["RFM-C2C Train","RFM-C2C Test","RFM-P2C Train","RFM-P2C Test"],"range":["M-1,0L1,0","M-1,0L1,0M0.262,0A0.262,0.262,0,1,1,-0.262,0A0.262,0.262,0,1,1,0.262,0","M-1,0L1,0","M-1,0L1,0M0,-0.363L0.218,0L0,0.363L-0.218,0Z"]},
    "legend":{"title":null,"orient":"none","legendX":1284,"legendY":36,"direction":"vertical","padding":20,"fillColor":"white","strokeColor":"#d6d6d6","cornerRadius":10,
     "labelFont":"DejaVu Sans","labelFontSize":79,"labelColor":"black","labelLimit":3000,"labelExpr":"datum.label + '\u2009'","symbolSize":28224,"symbolStrokeWidth":6,"symbolOffset":3,"labelOffset":57,"clipHeight":101,"rowPadding":15,"symbolFillColor":"transparent","symbolOpacity":1}}}}
],
"resolve":{"axis":{"y":"independent"}}
}
